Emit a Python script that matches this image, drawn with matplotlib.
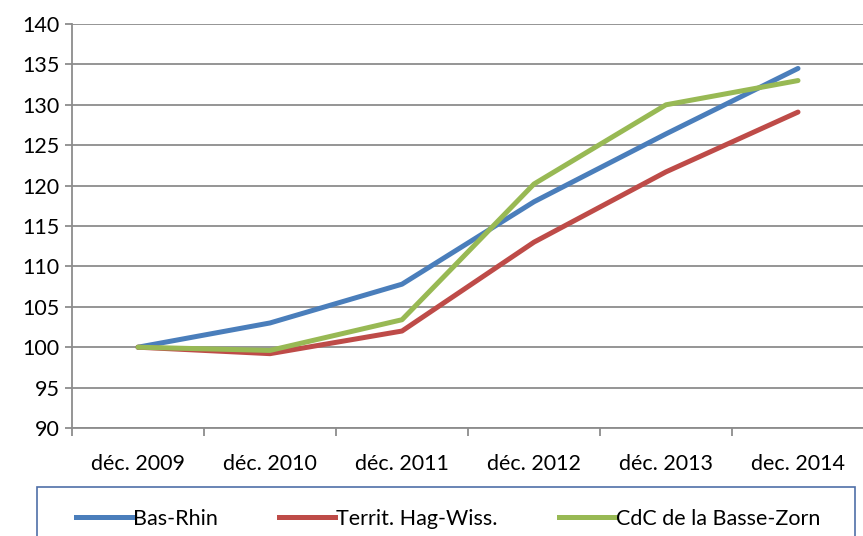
import matplotlib
matplotlib.use("Agg")
import matplotlib.pyplot as plt
from matplotlib.patches import Rectangle
from matplotlib.lines import Line2D
import numpy as np

categories = ["déc. 2009", "déc. 2010", "déc. 2011", "déc. 2012", "déc. 2013", "dec. 2014"]
bas_rhin = [100, 103, 107.8, 118, 126.4, 134.5]
territ = [100, 99.2, 102, 113, 121.7, 129.1]
cdc = [100, 99.6, 103.4, 120.2, 130, 133]
series_names = ["Bas-Rhin", "Territ. Hag-Wiss.", "CdC de la Basse-Zorn"]
colors = ["#4A7EBB", "#BE4B48", "#98B954"]

plt.rcParams['font.family'] = ['Lato', 'DejaVu Sans']

W, H = 863, 536
fig = plt.figure(figsize=(W/100, H/100), dpi=100)
ax = fig.add_axes([72/W, 1-428/H, (864-72)/W, (428-24)/H])

x = np.arange(len(categories))
for vals, c, n in zip([bas_rhin, territ, cdc], colors, series_names):
    ax.plot(x, vals, color=c, lw=3.6, solid_capstyle='round', label=n, zorder=3)

FS = 15.5
ax.set_xlim(-0.5, len(categories)-0.5)
ax.set_ylim(90, 140)
ax.set_yticks(np.arange(90, 141, 5))
ax.yaxis.grid(True, color="#8C8C8C", lw=1.3)
ax.set_axisbelow(True)
for s in ["top", "right"]:
    ax.spines[s].set_visible(False)
ax.spines["left"].set_color("#8C8C8C")
ax.spines["bottom"].set_color("#8C8C8C")
ax.spines["left"].set_linewidth(1.3)
ax.spines["bottom"].set_linewidth(1.3)
ax.tick_params(axis='y', length=5, width=1.3, color="#8C8C8C", labelsize=FS, pad=4)
ax.set_xticks(np.arange(-0.5, len(categories)), minor=False)
ax.set_xticklabels([])
ax.tick_params(axis='x', which='major', length=6, width=1.3, color="#8C8C8C", direction='out')
ax.set_xticks(x, minor=True)
ax.set_xticklabels(categories, minor=True)
ax.tick_params(axis='x', which='minor', length=0, labelsize=FS, pad=19)

# legend box
rect = Rectangle((37/W, -0.02), (855-37)/W, 1-487/H+0.02, transform=fig.transFigure,
                 fill=False, edgecolor="#4F6FA8", lw=1.2)
fig.patches.append(rect)
handles = [Line2D([0], [0], color=c, lw=3.6) for c in colors]
fig.legend(handles, series_names, loc='center', bbox_to_anchor=(448/W, 1-519/H),
           ncol=3, frameon=False, fontsize=FS, handlelength=2.6, handletextpad=0.05,
           columnspacing=2.85)

fig.savefig("out.png", dpi=100)
